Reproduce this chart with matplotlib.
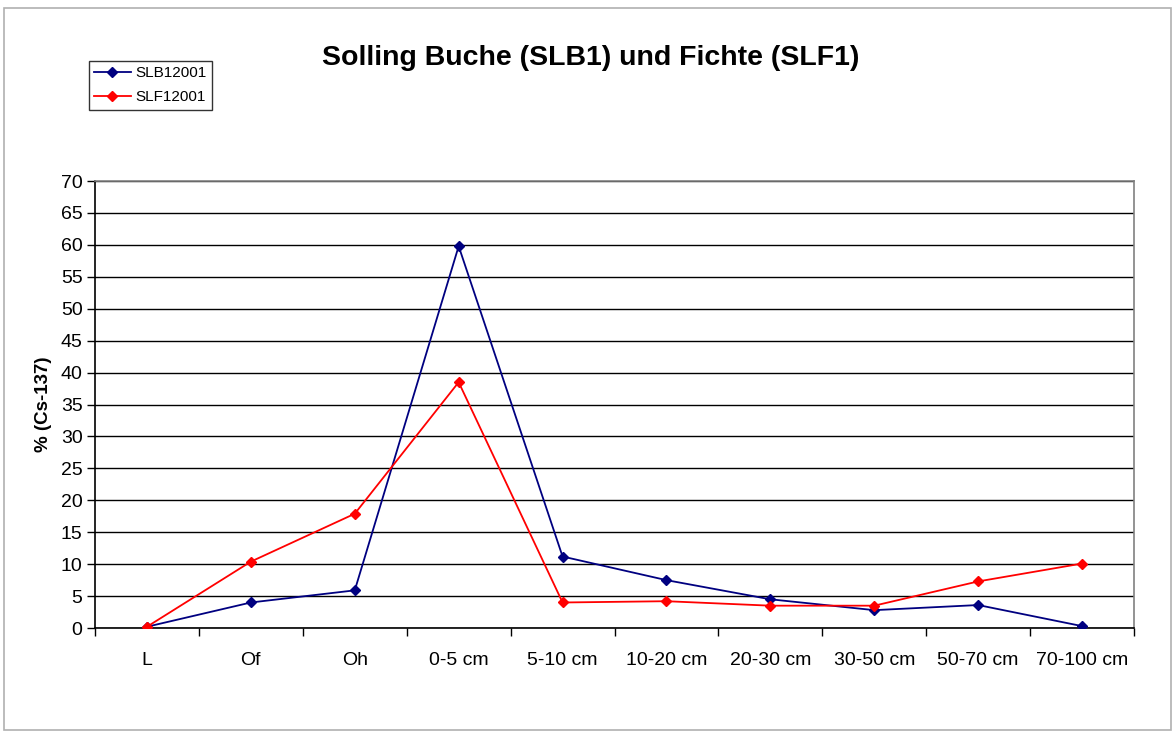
import matplotlib
matplotlib.use('Agg')
import matplotlib.pyplot as plt
from matplotlib.patches import Rectangle
import numpy as np

plt.rcParams['font.family'] = ['Liberation Sans', 'DejaVu Sans']

categories = ['L', 'Of', 'Oh', '0-5 cm', '5-10 cm', '10-20 cm', '20-30 cm',
              '30-50 cm', '50-70 cm', '70-100 cm']
slb = [0.2, 4.0, 5.9, 59.8, 11.2, 7.5, 4.5, 2.8, 3.6, 0.3]
slf = [0.2, 10.4, 17.9, 38.5, 4.0, 4.2, 3.5, 3.5, 7.3, 10.1]
yticks = list(range(0, 75, 5))

fig = plt.figure(figsize=(11.76, 7.36), dpi=100)
fig.patches.append(Rectangle((0.003, 0.008), 0.993, 0.981, transform=fig.transFigure,
                             fill=False, edgecolor='#b0b0b0', linewidth=1.2))

ax = fig.add_axes([0.0808, 0.1467, 0.8835, 0.6073])
x = np.arange(len(categories))

ax.plot(x, slb, color='#000080', marker='D', markersize=5, linewidth=1.3,
        label='SLB12001', zorder=3)
ax.plot(x, slf, color='#ff0000', marker='D', markersize=5, linewidth=1.3,
        label='SLF12001', zorder=3)

ax.set_xlim(-0.5, len(categories) - 0.5)
ax.set_ylim(0, 70)
ax.set_yticks(yticks)
ax.set_yticklabels([str(v) for v in yticks], fontsize=14)
ax.yaxis.grid(True, color='black', linewidth=1)
ax.set_axisbelow(True)

ax.set_xticks(x)
ax.set_xticklabels(categories, fontsize=14)
ax.tick_params(axis='x', which='major', length=0, pad=17)
ax.set_xticks(np.arange(-0.5, len(categories), 1.0), minor=True)
ax.tick_params(axis='x', which='minor', length=6, width=1, direction='out')
ax.tick_params(axis='y', length=6, width=1, direction='out', pad=3)

for side in ['top', 'right']:
    ax.spines[side].set_color('#808080')
    ax.spines[side].set_linewidth(1.2)
for side in ['left', 'bottom']:
    ax.spines[side].set_color('black')
    ax.spines[side].set_linewidth(1.2)

ax.set_ylabel('% (Cs-137)', fontsize=13.5, fontweight='bold', labelpad=6)

fig.text(0.502, 0.921, 'Solling Buche (SLB1) und Fichte (SLF1)', ha='center', va='center',
         fontsize=20.5, fontweight='bold')

leg = fig.legend(loc='upper left', bbox_to_anchor=(0.0755, 0.917), fontsize=11,
                 frameon=True, fancybox=False, edgecolor='black', borderpad=0.35,
                 handlelength=2.4, handletextpad=0.3, labelspacing=0.65,
                 borderaxespad=0)
leg.get_frame().set_linewidth(1)

fig.savefig('out.png', dpi=100)
